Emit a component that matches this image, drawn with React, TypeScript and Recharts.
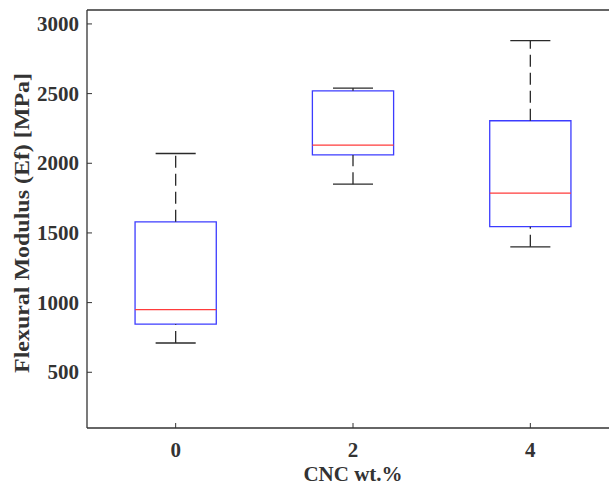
import {
  ComposedChart,
  ReferenceArea,
  ReferenceLine,
  Scatter,
  XAxis,
  YAxis,
} from 'recharts'

// CNC content groups, placed at x = 1, 2, 3 like a MATLAB boxplot
const categories = ['0', '2', '4']
const positions = [1, 2, 3]

// box statistics [MPa]
const whiskerLow = [710, 1850, 1400]
const q1 = [845, 2060, 1545]
const median = [950, 2130, 1785]
const q3 = [1580, 2520, 2305]
const whiskerHigh = [2070, 2540, 2880]

const yTicks = [500, 1000, 1500, 2000, 2500, 3000]
const yDomain = [100, 3100]
const xDomain = [0.5, 3.5]

const boxHalf = 0.229
const capHalf = 0.113

const FONT = '"Liberation Serif", "Times New Roman", serif'
const AXIS = '#333333'
const BLUE = '#3c3cff'
const RED = '#ff3b3b'
const WHISKER = '#2a2a2a'

const medianPoints = positions.map((p, i) => ({ x: p, y: median[i] }))

function YTick(props: any) {
  const { x, y, payload } = props
  return (
    <g>
      <line x1={x + 8} x2={x + 13} y1={y} y2={y} stroke={AXIS} />
      <text
        x={x}
        y={y + 7}
        textAnchor="end"
        fontFamily={FONT}
        fontWeight="bold"
        fontSize={21}
        fill="#333"
      >
        {payload.value}
      </text>
    </g>
  )
}

function XTick(props: any) {
  const { x, y, payload } = props
  const idx = positions.indexOf(payload.value)
  return (
    <g>
      <line x1={x} x2={x} y1={y - 8} y2={y - 13} stroke={AXIS} />
      <text
        x={x}
        y={y + 21}
        textAnchor="middle"
        fontFamily={FONT}
        fontWeight="bold"
        fontSize={21}
        fill="#333"
      >
        {categories[idx]}
      </text>
    </g>
  )
}

function YLabel(props: any) {
  const { viewBox } = props
  const cy = viewBox.y + viewBox.height / 2 + 4
  return (
    <text
      x={22}
      y={cy}
      transform={`rotate(-90 22 ${cy})`}
      textAnchor="middle"
      dominantBaseline="central"
      textLength={300}
      lengthAdjust="spacingAndGlyphs"
      fontFamily={FONT}
      fontWeight="bold"
      fontSize={21}
      fill="#333"
    >
      Flexural Modulus (Ef) [MPa]
    </text>
  )
}

export default function App() {
  return (
    <div
      style={{
        position: 'absolute',
        left: 0,
        top: 0,
        width: 609,
        height: 486,
        overflow: 'hidden',
        background: '#fff',
      }}
    >
      <ComposedChart
        width={619}
        height={486}
        margin={{ top: 10, right: 0, bottom: 0, left: 0 }}
      >
        <XAxis
          type="number"
          dataKey="x"
          domain={xDomain}
          ticks={positions}
          allowDataOverflow
          height={58}
          tickSize={0}
          tickMargin={8}
          tickLine={false}
          axisLine={{ stroke: AXIS, strokeWidth: 1.3 }}
          tick={<XTick />}
          label={{
            value: 'CNC wt.%',
            position: 'insideBottom',
            offset: 5,
            style: {
              fontFamily: FONT,
              fontWeight: 'bold',
              fontSize: 21,
              fill: '#333',
            },
          }}
        />
        <YAxis
          type="number"
          dataKey="y"
          domain={yDomain}
          ticks={yTicks}
          allowDataOverflow
          width={87}
          tickSize={0}
          tickMargin={8}
          tickLine={false}
          axisLine={{ stroke: AXIS, strokeWidth: 1.3 }}
          tick={<YTick />}
          label={<YLabel />}
        />

        {/* top frame line */}
        <ReferenceLine y={yDomain[1]} stroke={AXIS} strokeWidth={1.3} />

        {positions.map((p, i) => (
          <ReferenceLine
            key={`wh-${p}`}
            segment={[
              { x: p, y: q3[i] },
              { x: p, y: whiskerHigh[i] },
            ]}
            stroke={WHISKER}
            strokeWidth={1.3}
            strokeDasharray="12 6"
          />
        ))}
        {positions.map((p, i) => (
          <ReferenceLine
            key={`wl-${p}`}
            segment={[
              { x: p, y: whiskerLow[i] },
              { x: p, y: q1[i] },
            ]}
            stroke={WHISKER}
            strokeWidth={1.3}
            strokeDasharray="12 6"
          />
        ))}
        {positions.map((p, i) => (
          <ReferenceLine
            key={`ch-${p}`}
            segment={[
              { x: p - capHalf, y: whiskerHigh[i] },
              { x: p + capHalf, y: whiskerHigh[i] },
            ]}
            stroke={WHISKER}
            strokeWidth={1.3}
          />
        ))}
        {positions.map((p, i) => (
          <ReferenceLine
            key={`cl-${p}`}
            segment={[
              { x: p - capHalf, y: whiskerLow[i] },
              { x: p + capHalf, y: whiskerLow[i] },
            ]}
            stroke={WHISKER}
            strokeWidth={1.3}
          />
        ))}
        {positions.map((p, i) => (
          <ReferenceArea
            key={`box-${p}`}
            x1={p - boxHalf}
            x2={p + boxHalf}
            y1={q1[i]}
            y2={q3[i]}
            fill="#fff"
            fillOpacity={0}
            stroke={BLUE}
            strokeWidth={1.3}
          />
        ))}
        {positions.map((p, i) => (
          <ReferenceLine
            key={`med-${p}`}
            segment={[
              { x: p - boxHalf, y: median[i] },
              { x: p + boxHalf, y: median[i] },
            ]}
            stroke={RED}
            strokeWidth={1.3}
          />
        ))}

        <Scatter
          data={medianPoints}
          dataKey="y"
          isAnimationActive={false}
          shape={() => <g />}
        />
      </ComposedChart>
    </div>
  )
}
